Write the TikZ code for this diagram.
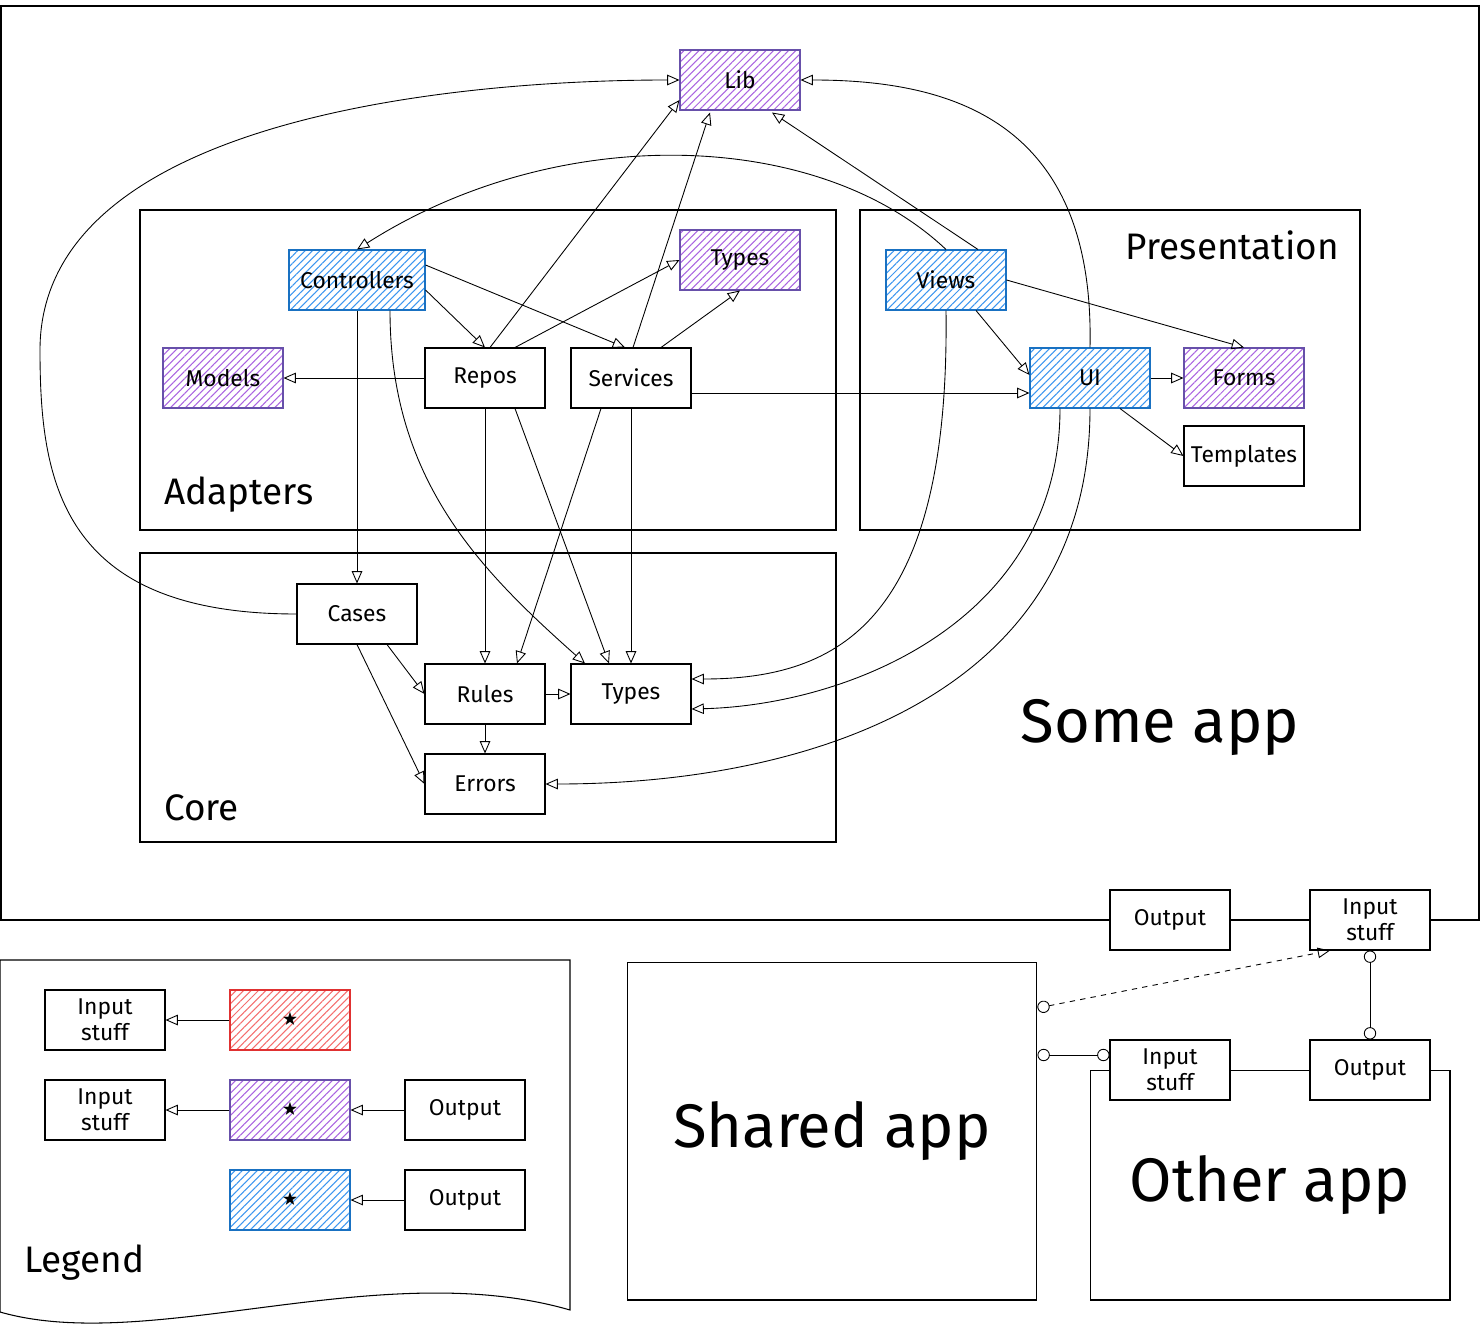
\documentclass[tikz,border=0pt]{standalone}
\usepackage{amssymb}
\usepackage{fontspec}
\setmainfont{Fira Sans}
\usetikzlibrary{calc}
\usetikzlibrary{arrows.meta}
\usetikzlibrary{patterns.meta}

\definecolor{lilacline}{RGB}{103,80,170}
\definecolor{lilachatch}{RGB}{170,100,225}
\definecolor{skyline}{RGB}{25,113,194}
\definecolor{skyhatch}{RGB}{60,150,240}
\definecolor{roseline}{RGB}{224,49,49}
\definecolor{rosehatch}{RGB}{245,110,110}

\begin{document}
\begin{tikzpicture}[x=0.02cm, y=-0.02cm,
    base/.style={draw, line width=0.6pt, minimum width=2.4cm, minimum height=1.2cm, align=center, font=\fontsize{13}{15}\selectfont},
    box/.style={base, fill=white},
    hatch/.style={base, draw=#1line, preaction={fill=white}, pattern={Lines[angle=45,distance=3pt,line width=0.6pt]}, pattern color=#1hatch},
    frame/.style={draw, line width=0.6pt},
    tag/.style={font=\fontsize{21}{24}\selectfont},
    big/.style={font=\fontsize{35}{40}\selectfont},
    dep/.style={line width=0.5pt, -{Triangle[open,length=7pt,width=6pt]}},
    link/.style={line width=0.5pt, {Circle[open,length=7pt]}-{Circle[open,length=7pt]}}]
    \useasboundingbox (0,0) rectangle (1481,1331);

    \draw[frame] (1,6) rectangle (1479,920); % Some app
    \draw[frame] (140,210) rectangle (836,530); % Adapters
    \draw[frame] (860,210) rectangle (1360,530); % Presentation
    \draw[frame] (140,553) rectangle (836,842); % Core
    \draw[frame] (0,960) -- (570,960) -- (570,1310) .. controls (380,1255) and (150,1355) .. (0,1312) -- cycle; % Legend

    \node[tag, anchor=west] (adapterstag) at (158,495) {Adapters};
    \node[tag, anchor=east] (prestag) at (1345,245) {Presentation};
    \node[tag, anchor=west] (coretag) at (158,808) {Core};
    \node[big] (sometag) at (1160,727) {Some app};
    \node[tag, anchor=west] (legendtag) at (18,1263) {Legend};

    % Some app
    \node[hatch=lilac] (lib) at (740,80) {Lib};
    \node[hatch=sky, minimum width=2.72cm] (ctrl) at (357,280) {Controllers};
    \node[hatch=lilac] (atypes) at (740,260) {Types};
    \node[hatch=lilac] (models) at (223,378) {Models};
    \node[box] (repos) at (485,378) {Repos};
    \node[box] (services) at (631,378) {Services};
    \node[hatch=sky] (views) at (946,280) {Views};
    \node[hatch=sky] (ui) at (1090,378) {UI};
    \node[hatch=lilac] (forms) at (1244,378) {Forms};
    \node[box] (templates) at (1244,456) {Templates};
    \node[box] (cases) at (357,614) {Cases};
    \node[box] (rules) at (485,694) {Rules};
    \node[box] (ctypes) at (631,694) {Types};
    \node[box] (errors) at (485,784) {Errors};
    \node[box] (sout) at (1170,920) {Output};
    \node[box] (sin) at (1370,920) {Input\\stuff};

    % Legend
    \node[box] (ina) at (105,1020) {Input\\stuff};
    \node[hatch=rose] (redstar) at (290,1020) {\small$\bigstar$};
    \node[box] (inb) at (105,1110) {Input\\stuff};
    \node[hatch=lilac] (lilacstar) at (290,1110) {\small$\bigstar$};
    \node[box] (outa) at (465,1110) {Output};
    \node[hatch=sky] (skystar) at (290,1200) {\small$\bigstar$};
    \node[box] (outb) at (465,1200) {Output};

    % Shared and other app
    \node[draw, line width=0.6pt, minimum width=8.2cm, minimum height=6.76cm, big] (shared) at (832,1131) {Shared app};
    \node[draw, line width=0.6pt, minimum width=7.2cm, minimum height=4.6cm, big] (other) at (1270,1185) {Other app};
    \node[box] (oin) at (1170,1070) {Input\\stuff};
    \node[box] (oout) at (1370,1070) {Output};

    \draw[dep] (cases.west) .. controls (60,614) and (40,480) .. (40,350) .. controls (40,120) and (450,80) .. (lib.west);
    \draw[dep] ($(repos.north)+(5,0)$) -- ($(lib.west)+(0,20)$);
    \draw[dep] ($(services.north)+(2,0)$) -- ($(lib.south)+(-30,2)$);
    \draw[dep] ($(views.north)+(32,0)$) -- ($(lib.south)+(32,2)$);
    \draw[dep] (ui.north) .. controls (1095,120) and (950,80) .. (lib.east);
    \draw[dep] (views.north) .. controls (820,130) and (560,120) .. (ctrl.north);
    \draw[dep] ($(ctrl.east)+(0,-15)$) -- ($(services.north)+(-6,0)$);
    \draw[dep] ($(ctrl.east)+(0,10)$) -- (repos.north);
    \draw[dep] (ctrl.south) -- (cases.north);
    \draw[dep] ($(ctrl.south)+(33,0)$) .. controls (390,480) and (480,570) .. ($(ctypes.north)+(-46,0)$);
    \draw[dep] (repos.west) -- (models.east);
    \draw[dep] ($(repos.north)+(30,0)$) -- (atypes.west);
    \draw[dep] ($(services.north)+(30,0)$) -- (atypes.south);
    \draw[dep] ($(services.east)+(0,15)$) -- ($(ui.west)+(0,15)$);
    \draw[dep] (repos.south) -- (rules.north);
    \draw[dep] ($(repos.south)+(30,0)$) -- ($(ctypes.north)+(-22,0)$);
    \draw[dep] ($(services.south)+(-30,0)$) -- ($(rules.north)+(32,0)$);
    \draw[dep] (services.south) -- (ctypes.north);
    \draw[dep] (views.south) .. controls (950,620) and (840,679) .. ($(ctypes.east)+(0,-15)$);
    \draw[dep] ($(ui.south)+(-30,0)$) .. controls (1060,620) and (850,705) .. ($(ctypes.east)+(0,15)$);
    \draw[dep] (ui.south) .. controls (1090,700) and (800,784) .. (errors.east);
    \draw[dep] ($(views.south)+(30,0)$) -- ($(ui.west)+(0,-3)$);
    \draw[dep] (views.east) -- (forms.north);
    \draw[dep] (ui.east) -- (forms.west);
    \draw[dep] ($(ui.south)+(30,0)$) -- (templates.west);
    \draw[dep] ($(cases.south)+(30,0)$) -- (rules.west);
    \draw[dep] (cases.south) -- (errors.west);
    \draw[dep] (rules.east) -- (ctypes.west);
    \draw[dep] (rules.south) -- (errors.north);

    \draw[dep] (redstar.west) -- (ina.east);
    \draw[dep] (lilacstar.west) -- (inb.east);
    \draw[dep] (outa.west) -- (lilacstar.east);
    \draw[dep] (outb.west) -- (skystar.east);

    \draw[line width=0.5pt, dashed, {Circle[open,length=7pt]}-{Triangle[open,length=7pt,width=6pt]}] ($(shared.east)+(0,-123)$) -- ($(sin.south)+(-40,0)$);
    \draw[link] (sin.south) -- (oout.north);
    \draw[link] ($(shared.east)+(0,-76)$) -- ($(oin.west)+(0,-15)$);
\end{tikzpicture}
\end{document}
